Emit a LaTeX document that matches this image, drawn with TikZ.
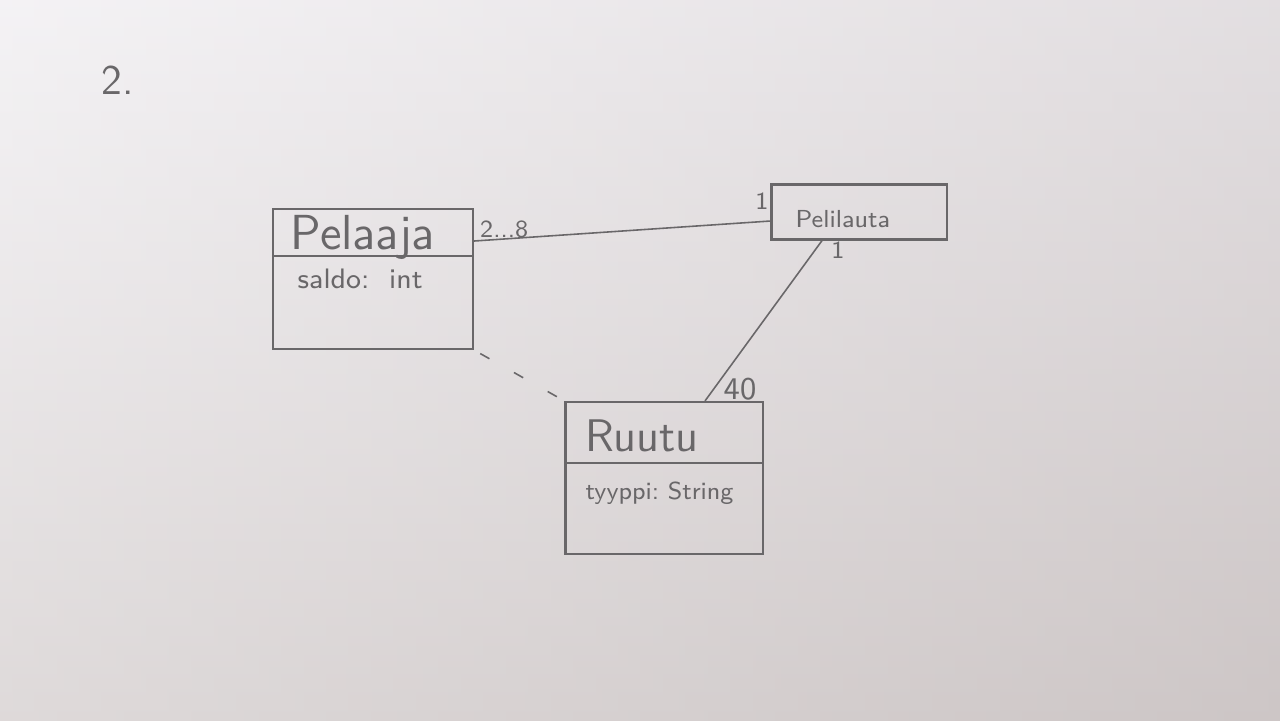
\documentclass[tikz,border=0pt]{standalone}
\usetikzlibrary{calc}
\definecolor{paper}{RGB}{228,224,230}
\definecolor{paperdark}{RGB}{205,198,198}
\definecolor{pencil}{RGB}{105,103,105}
\tikzset{
  classbox/.style={draw=pencil, line width=0.6pt, inner sep=0pt},
  conn/.style={draw=pencil, line width=0.45pt},
  lbl/.style={text=pencil, font=\sffamily\scriptsize, inner sep=1pt},
  title/.style={text=pencil, font=\sffamily\fontsize{14}{17}\selectfont, inner sep=0pt},
  attr/.style={text=pencil, font=\sffamily\fontsize{8}{10}\selectfont, inner sep=0pt},
}
\begin{document}
\begin{tikzpicture}[x=0.01cm, y=-0.01cm]
  \useasboundingbox (0,0) rectangle (1280,720);
  \shade[top color=paper!60!white, bottom color=paperdark] (0,0) rectangle (1280,720);
  \shade[left color=paper!0!white, right color=paperdark, opacity=0.35] (0,0) rectangle (1280,720);

  \node[text=pencil, font=\sffamily\fontsize{12}{14}\selectfont] (num) at (118,80) {2.};

  % Pelaaja
  \node[classbox, minimum width=2cm, minimum height=1.4cm] (pel) at (373,279) {};
  \draw[classbox] ($(pel.north west)!0.335!(pel.south west)$) coordinate (pd1) -- ($(pel.north east)!0.335!(pel.south east)$) coordinate (pd2);
  \node[title, anchor=west] (peltitle) at (290,237) {Pelaaja};
  \node[attr, anchor=west] (pelattr) at (297,279) {saldo:\ \ int};

  % Pelilauta
  \node[classbox, minimum width=1.75cm, minimum height=0.55cm] (lauta) at (859,212) {};
  \node[attr, font=\sffamily\fontsize{7}{9}\selectfont, anchor=west] (lautatitle) at (795,219) {Pelilauta};

  % Ruutu
  \node[classbox, minimum width=1.97cm, minimum height=1.52cm] (ruutu) at (664,478) {};
  \draw[classbox] ($(ruutu.north west)!0.4!(ruutu.south west)$) coordinate (rd1) -- ($(ruutu.north east)!0.4!(ruutu.south east)$) coordinate (rd2);
  \node[title, font=\sffamily\fontsize{13}{16}\selectfont, anchor=west] (ruututitle) at (585,436) {Ruutu};
  \node[attr, font=\sffamily\fontsize{7}{9}\selectfont, anchor=west] (ruutuattr) at (585,493) {tyyppi:\ String};

  % connectors
  \draw[conn] (pel.east |- 0,241) coordinate (a1) -- (lauta.west |- 0,221) coordinate (a2);
  \node[lbl, anchor=west] (m1) at (476,229) {2...8};
  \node[lbl] (m2) at (762,201) {1};

  \draw[conn] (lauta.south -| 822,0) coordinate (b1) -- (ruutu.north -| 705,0) coordinate (b2);
  \node[lbl] (m3) at (838,250) {1};
  \node[lbl, font=\sffamily\small] (m4) at (740,389) {40};

  \draw[conn, dash pattern=on 3pt off 8pt, dash phase=-2pt] (pel.south east) -- (ruutu.north west);
\end{tikzpicture}
\end{document}
